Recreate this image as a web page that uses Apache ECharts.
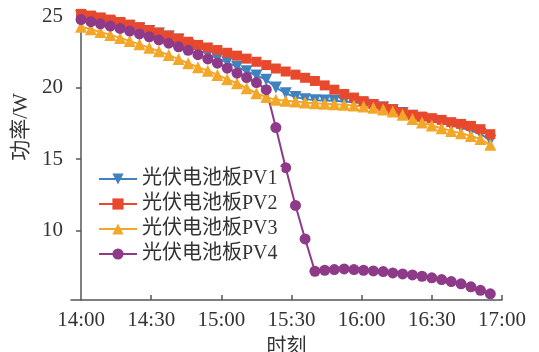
<!DOCTYPE html>
<html>
<head>
<meta charset="utf-8">
<script src="https://cdn.jsdelivr.net/npm/echarts@6.0.0/dist/echarts.min.js"></script>
<style>
	html,body{margin:0;padding:0;background:#fff;}
	#main{width:539px;height:352px;}
</style>
</head>
<body>
<div id="main"></div>
<script>
// 采样时刻（距14:00的分钟数）
var times = [0, 4.2, 8.3, 12.5, 16.7, 20.8, 25, 29.2, 33.3, 37.5, 41.7, 45.8, 50, 54.2, 58.3,
	62.5, 66.7, 70.8, 75, 79.2, 83.3, 87.5, 91.7, 95.8, 100, 104.2, 108.3, 112.5, 116.7,
	120.8, 125, 129.2, 133.3, 137.5, 141.7, 145.8, 150, 154.2, 158.3, 162.5, 166.7, 170.8, 175];

var seriesNames = ['光伏电池板PV1', '光伏电池板PV2', '光伏电池板PV3', '光伏电池板PV4'];

var pv1 = [25.0, 24.88, 24.75, 24.6, 24.45, 24.3, 24.13, 23.95, 23.77, 23.57, 23.35,
	22.97, 22.63, 22.33, 22.05, 21.76, 21.45, 21.14, 20.84, 20.55, 20.0, 19.6, 19.33, 19.19, 19.12,
	19.1, 19.07, 19.03, 18.97, 18.88, 18.75, 18.6, 18.42, 18.22, 18.02, 17.85, 17.68, 17.52, 17.35, 17.18, 17.0, 16.75, 16.3];
var pv2 = [25.15, 25.03, 24.9, 24.75, 24.58, 24.4, 24.22, 24.02, 23.83, 23.63, 23.42, 23.2,
	22.98, 22.8, 22.62, 22.43, 22.23, 22.02, 21.8, 21.57, 21.33, 21.12, 20.9, 20.68, 20.46,
	20.15, 19.85, 19.55, 19.3, 19.05, 18.85, 18.67, 18.49, 18.25,
	18.09, 17.97, 17.86, 17.74, 17.58, 17.46, 17.32, 17.09, 16.74];
var pv3 = [24.25, 24.07, 23.88, 23.68, 23.47, 23.25, 23.02, 22.78, 22.53, 22.27, 21.99,
	21.7, 21.42, 21.18, 20.88, 20.58, 20.3, 19.95, 19.6, 19.33, 19.14, 19.07, 19.02, 18.95, 18.9,
	18.86, 18.84, 18.79, 18.74, 18.67, 18.58, 18.47, 18.33, 18.1, 17.8, 17.55, 17.35, 17.16, 16.97, 16.8, 16.62, 16.4, 16.0];
var pv4 = [24.75, 24.6, 24.45, 24.3, 24.13, 23.95, 23.75, 23.55, 23.33, 23.1, 22.85, 22.6, 22.3, 22.0, 21.7, 21.35, 21.0, 20.7, 20.35, 19.85,
	17.2, 14.4, 11.76, 9.42,
	7.16, 7.23, 7.28, 7.32, 7.28, 7.23, 7.18, 7.14, 7.04, 6.97, 6.9, 6.81, 6.7, 6.58, 6.44, 6.28, 6.07, 5.83, 5.58];

var xTickMinutes = [0, 30, 60, 90, 120, 150, 180];
var xTickLabels = ['14:00', '14:30', '15:00', '15:30', '16:00', '16:30', '17:00'];
var yTicks = [10, 15, 20, 25];

e_chart();

function pairs(vals){
	return times.map(function(t, i){ return [t, vals[i]]; });
}

function e_chart(){
	var myChart = echarts.init(document.getElementById('main'));
	var fontFamily = "'Liberation Serif','Noto Sans CJK SC',serif";
	var axisColor = '#555';

	var option = {
		animation: false,
		grid: {left: 71, right: 37, top: 16, bottom: 52, outerBoundsMode: 'none', containLabel: false},
		graphic: [{
			type: 'text',
			x: 21, y: 127,
			rotation: Math.PI / 2,
			style: {
				text: '功率/W',
				font: '21px ' + fontFamily,
				fill: '#333',
				textAlign: 'center',
				textVerticalAlign: 'middle'
			}
		}],
		legend: {
			orient: 'vertical',
			left: 96, top: 167,
			itemWidth: 38, itemHeight: 14, itemGap: 5,
			backgroundColor: '#fff',
			padding: [2, 4, 2, 2],
			data: seriesNames,
			textStyle: {fontSize: 20, fontFamily: fontFamily, color: '#333'}
		},
		xAxis: {
			type: 'value',
			min: -4.3, max: 180,
			name: '时刻',
			nameLocation: 'middle',
			nameGap: 38,
			nameTextStyle: {fontSize: 20, fontFamily: fontFamily, color: '#333'},
			splitLine: {show: false},
			axisLine: {lineStyle: {color: axisColor, width: 1.5}},
			axisTick: {
				inside: true, length: 5,
				customValues: xTickMinutes.slice(1),
				lineStyle: {color: axisColor, width: 1.5}
			},
			axisLabel: {
				customValues: xTickMinutes,
				margin: 10,
				fontSize: 21, fontFamily: fontFamily, color: '#333',
				formatter: function(v){
					var k = xTickMinutes.indexOf(v);
					return k >= 0 ? xTickLabels[k] : '';
				}
			}
		},
		yAxis: {
			type: 'value',
			min: 5.15, max: 25,
			splitLine: {show: false},
			axisLine: {show: true, lineStyle: {color: axisColor, width: 1.5}},
			axisTick: {
				show: true, length: 5,
				customValues: yTicks,
				lineStyle: {color: axisColor, width: 1.5}
			},
			axisLabel: {
				customValues: yTicks,
				margin: 8,
				fontSize: 21, fontFamily: fontFamily, color: '#333'
			}
		},
		series: [{
			name: seriesNames[0], type: 'line', clip: false,
			data: pairs(pv1),
			symbol: 'triangle', symbolRotate: 180, symbolSize: 12,
			lineStyle: {width: 2, color: '#3f82bf'},
			itemStyle: {color: '#3f82bf'}
		}, {
			name: seriesNames[1], type: 'line', clip: false,
			data: pairs(pv2),
			symbol: 'rect', symbolSize: 10,
			lineStyle: {width: 2, color: '#e8492c'},
			itemStyle: {color: '#e8492c'}
		}, {
			name: seriesNames[2], type: 'line', clip: false,
			data: pairs(pv3),
			symbol: 'triangle', symbolSize: 12,
			lineStyle: {width: 2, color: '#f2a729'},
			itemStyle: {color: '#f2a729'}
		}, {
			name: seriesNames[3], type: 'line', clip: false,
			data: pairs(pv4),
			symbol: 'circle', symbolSize: 11,
			lineStyle: {width: 2, color: '#8e3a89'},
			itemStyle: {color: '#8e3a89'}
		}]
	};

	myChart.setOption(option);
}
</script>
</body>
</html>
